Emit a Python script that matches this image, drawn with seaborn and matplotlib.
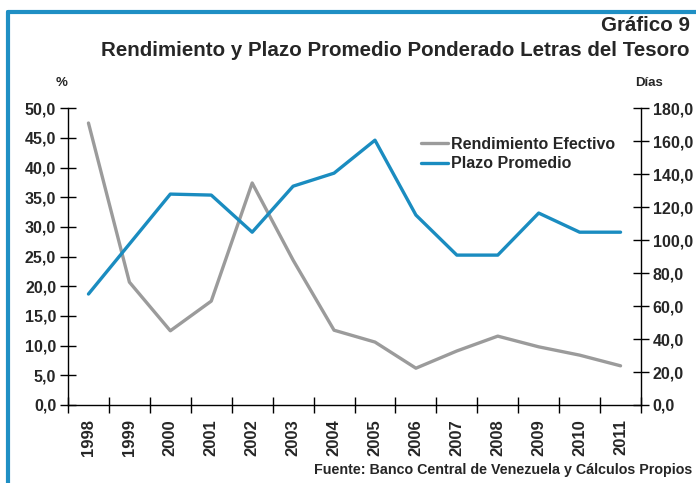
import numpy as np
import pandas as pd
import matplotlib.pyplot as plt
import seaborn as sns
from matplotlib.lines import Line2D

anios = ["1998", "1999", "2000", "2001", "2002", "2003", "2004",
         "2005", "2006", "2007", "2008", "2009", "2010", "2011"]
rendimiento = [47.5, 20.7, 12.5, 17.5, 37.4, 24.4, 12.6,
               10.6, 6.2, 9.1, 11.6, 9.8, 8.4, 6.6]
plazo = [67.3, 97.6, 127.9, 127.3, 104.8, 132.7, 140.6,
         160.6, 115.2, 90.9, 90.9, 116.4, 104.8, 104.8]

GRIS = "#9b9b9b"
AZUL = "#1a8cc0"

sns.set_style("ticks")
plt.rcParams["font.family"] = ["Liberation Sans", "DejaVu Sans"]
plt.rcParams["font.weight"] = "bold"

df = pd.DataFrame({"pos": np.arange(len(anios)), "rend": rendimiento, "plazo": plazo})

fig = plt.figure(figsize=(6.96, 4.83), dpi=100)
ax = fig.add_axes([0.0977, 0.1615, 0.8233, 0.6145])
ax2 = ax.twinx()

sns.lineplot(data=df, x="pos", y="rend", ax=ax, color=GRIS, lw=2.4)
sns.lineplot(data=df, x="pos", y="plazo", ax=ax2, color=AZUL, lw=2.4)

ax.set_xlim(-0.5, len(anios) - 0.5)
ax.set_ylim(0, 50)
ax2.set_ylim(0, 180)
ax.set_yticks(np.arange(0, 50.1, 5))
ax.set_yticklabels([f"{v:.1f}".replace(".", ",") for v in np.arange(0, 50.1, 5)])
ax2.set_yticks(np.arange(0, 180.1, 20))
ax2.set_yticklabels([f"{v:.1f}".replace(".", ",") for v in np.arange(0, 180.1, 20)])

ax.set_xticks(np.arange(len(anios)))
ax.set_xticklabels(anios, rotation=90, fontsize=12, fontweight="bold")
ax.set_xticks(np.arange(-0.5, len(anios), 1), minor=True)
ax.tick_params(axis="x", which="major", length=0, pad=10)
ax.tick_params(axis="x", which="minor", length=11, direction="inout", width=1, color="black")
ax.tick_params(axis="y", length=11, direction="inout", width=1, color="black", labelsize=11.5, pad=3)
ax2.tick_params(axis="y", length=11, direction="inout", width=1, color="black", labelsize=11.5, pad=3)
for t in ax.get_yticklabels() + ax2.get_yticklabels():
    t.set_fontweight("bold")

ax.set_xlabel("")
ax.set_ylabel("")
ax2.set_ylabel("")
for a in (ax, ax2):
    a.spines["top"].set_visible(False)
    for s in a.spines.values():
        s.set_color("black")
        s.set_linewidth(1)
ax.spines["right"].set_visible(False)
ax2.spines["left"].set_visible(False)
ax2.spines["bottom"].set_visible(False)

handles = [Line2D([0], [0], color=GRIS, lw=2.4), Line2D([0], [0], color=AZUL, lw=2.4)]
fig.legend(handles, ["Rendimiento Efectivo", "Plazo Promedio"], loc="upper left",
           bbox_to_anchor=(0.598, 0.727), frameon=False, handlelength=1.7,
           handletextpad=0.2, labelspacing=0.3, borderaxespad=0, borderpad=0.3,
           prop={"weight": "bold", "size": 11.5})

fig.text(0.991, 0.948, "Gráfico 9", ha="right", va="center", fontsize=14.8, fontweight="bold")
fig.text(0.991, 0.895, "Rendimiento y Plazo Promedio Ponderado Letras del Tesoro",
         ha="right", va="center", fontsize=14.8, fontweight="bold")
fig.text(0.089, 0.828, "%", ha="center", va="center", fontsize=9.5, fontweight="bold")
fig.text(0.912, 0.828, "Días", ha="left", va="center", fontsize=9.5, fontweight="bold")
fig.text(0.994, 0.027, "Fuente: Banco Central de Venezuela y Cálculos Propios",
         ha="right", va="center", fontsize=10.3, fontweight="bold")

# marco azul
fig.add_artist(Line2D([0.0115, 1.0], [0.975, 0.975], color="#1f8fc4", lw=3))
fig.add_artist(Line2D([0.0115, 0.0115], [0.0, 0.975], color="#1f8fc4", lw=3))

fig.savefig("out.png", dpi=100)
